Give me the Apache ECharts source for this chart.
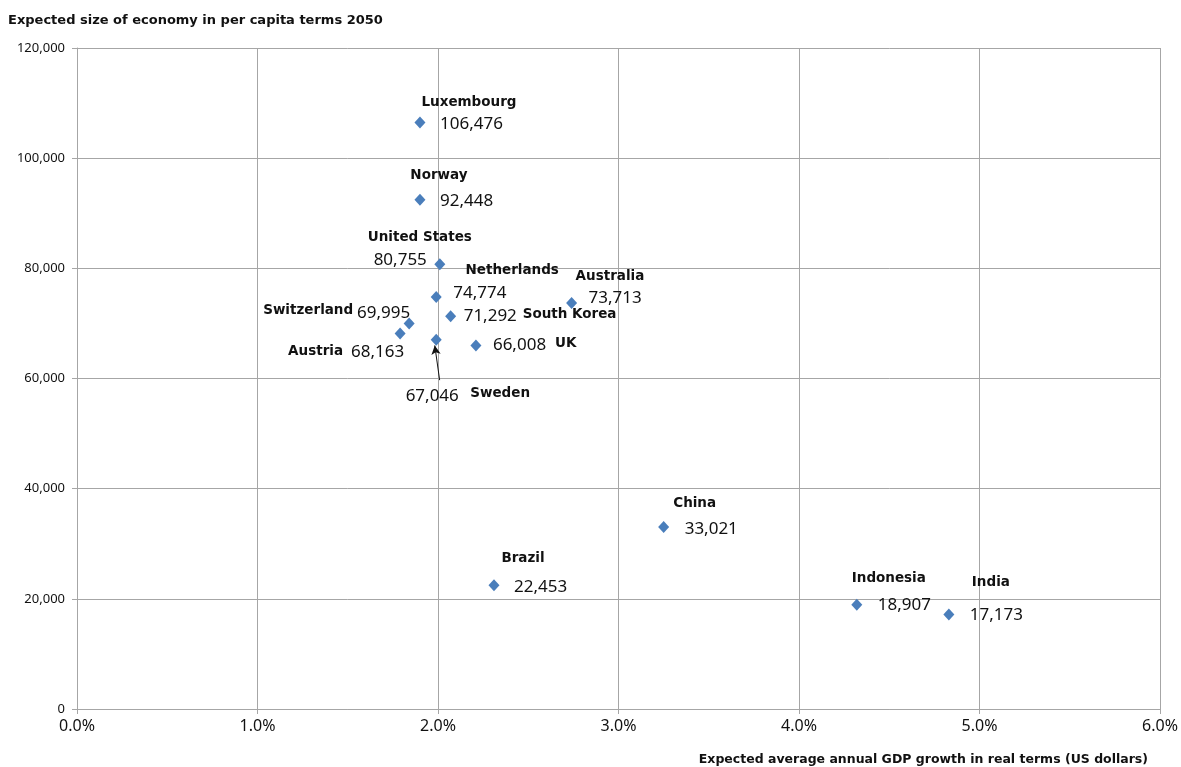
<!DOCTYPE html>
<html>
<head>
<meta charset="utf-8">
<script src="https://cdn.jsdelivr.net/npm/echarts@6/dist/echarts.min.js"></script>
<style>
  html, body { margin: 0; padding: 0; background: #fff; }
  #chart { width: 1181px; height: 767px; }
</style>
</head>
<body>
<div id="chart"></div>
<script>
// Countries, expected annual GDP growth (%) and GDP per capita in 2050 (US$)
const countries = ['Luxembourg', 'Norway', 'United States', 'Netherlands', 'South Korea',
  'Switzerland', 'Austria', 'Sweden', 'UK', 'Australia', 'China', 'Brazil', 'Indonesia', 'India'];
const growth = [1.90, 1.90, 2.01, 1.99, 2.07, 1.84, 1.79, 1.99, 2.21, 2.74, 3.25, 2.31, 4.32, 4.83];
const perCapita2050 = [106476, 92448, 80755, 74774, 71292, 69995, 68163, 67046, 66008, 73713, 33021, 22453, 18907, 17173];
const xTicks = [0, 1, 2, 3, 4, 5, 6];
const yTicks = [0, 20000, 40000, 60000, 80000, 100000, 120000];

const FONT = '"Noto Sans", "Open Sans", sans-serif';
const BOLD_FONT = '"DejaVu Sans", "Noto Sans", sans-serif';

// Label placement (pixel offsets from the marker centre)
const valueLabelPos = {
  'Luxembourg':    { align: 'left',   dx: 20,  dy: 2 },
  'Norway':        { align: 'left',   dx: 20,  dy: 1 },
  'United States': { align: 'right',  dx: -13, dy: -4 },
  'Netherlands':   { align: 'left',   dx: 17,  dy: -4 },
  'South Korea':   { align: 'left',   dx: 13,  dy: 0 },
  'Switzerland':   { align: 'right',  dx: 1,   dy: -10 },
  'Austria':       { align: 'left',   dx: -49, dy: 19 },
  'Sweden':        { align: 'center', dx: -4,  dy: 56 },
  'UK':            { align: 'left',   dx: 17,  dy: 0 },
  'Australia':     { align: 'left',   dx: 17,  dy: -5 },
  'China':         { align: 'left',   dx: 21,  dy: 2 },
  'Brazil':        { align: 'left',   dx: 20,  dy: 2 },
  'Indonesia':     { align: 'left',   dx: 21,  dy: 0 },
  'India':         { align: 'left',   dx: 21,  dy: 1 }
};
const nameLabelPos = {
  'Luxembourg':    { align: 'center', dx: 49,   dy: -20 },
  'Norway':        { align: 'center', dx: 19,   dy: -24 },
  'United States': { align: 'center', dx: -20,  dy: -27 },
  'Netherlands':   { align: 'center', dx: 76,   dy: -27 },
  'South Korea':   { align: 'left',   dx: 72,   dy: -2 },
  'Switzerland':   { align: 'right',  dx: -56,  dy: -13 },
  'Austria':       { align: 'left',   dx: -112, dy: 18 },
  'Sweden':        { align: 'left',   dx: 34,   dy: 54 },
  'UK':            { align: 'left',   dx: 79,   dy: -2 },
  'Australia':     { align: 'left',   dx: 4,    dy: -26 },
  'China':         { align: 'center', dx: 31,   dy: -24 },
  'Brazil':        { align: 'center', dx: 29,   dy: -27 },
  'Indonesia':     { align: 'center', dx: 32,   dy: -26 },
  'India':         { align: 'center', dx: 42,   dy: -32 }
};

const fmtNum = v => v.toString().replace(/\B(?=(\d{3})+(?!\d))/g, ',');

const valueData = countries.map((c, i) => {
  const p = valueLabelPos[c];
  return {
    name: c,
    value: [growth[i], perCapita2050[i]],
    label: { align: p.align, offset: [p.dx, p.dy] }
  };
});
const nameData = countries.map((c, i) => {
  const p = nameLabelPos[c];
  return {
    name: c,
    value: [growth[i], perCapita2050[i]],
    label: { align: p.align, offset: [p.dx, p.dy] }
  };
});

const gridColor = '#a6a6a6';

const chart = echarts.init(document.getElementById('chart'), null, { renderer: 'canvas' });
chart.setOption({
  animation: false,
  backgroundColor: '#ffffff',
  textStyle: { fontFamily: FONT },
  grid: { left: 77, right: 20, top: 48, bottom: 58, containLabel: false },
  xAxis: {
    type: 'value',
    min: xTicks[0], max: xTicks[xTicks.length - 1], interval: 1,
    axisLine: { show: true, onZero: false, lineStyle: { color: gridColor, width: 1 } },
    axisTick: { show: true, length: 5, lineStyle: { color: gridColor } },
    splitLine: { show: true, lineStyle: { color: gridColor, width: 1 } },
    axisLabel: { color: '#111', fontSize: 16, fontFamily: FONT, margin: 9,
      formatter: v => v.toFixed(1) + '%' }
  },
  yAxis: {
    type: 'value',
    min: yTicks[0], max: yTicks[yTicks.length - 1], interval: 20000,
    axisLine: { show: true, lineStyle: { color: gridColor, width: 1 } },
    axisTick: { show: true, length: 5, lineStyle: { color: gridColor } },
    splitLine: { show: true, lineStyle: { color: gridColor, width: 1 } },
    axisLabel: { color: '#111', fontSize: 13, fontFamily: FONT, margin: 12,
      formatter: v => fmtNum(v) }
  },
  graphic: [
    { type: 'text', left: 8, top: 14,
      style: { text: 'Expected size of economy in per capita terms 2050',
        font: 'bold 13px ' + BOLD_FONT, fill: '#111' } },
    { type: 'text', right: 33, top: 753,
      style: { text: 'Expected average annual GDP growth in real terms (US dollars)',
        font: 'bold 12.5px ' + BOLD_FONT, fill: '#111' } }
  ],
  series: [
    {
      type: 'scatter',
      name: 'names',
      data: nameData,
      symbol: 'circle',
      symbolSize: 1,
      itemStyle: { color: 'rgba(0,0,0,0)', opacity: 1 },
      silent: true,
      z: 3,
      label: {
        show: true, position: 'inside', verticalAlign: 'middle',
        formatter: p => p.name,
        color: '#111', fontWeight: 'bold', fontSize: 13.5, fontFamily: BOLD_FONT
      }
    },
    {
      type: 'scatter',
      name: 'economies',
      data: valueData,
      symbol: 'diamond',
      symbolSize: [11, 12],
      itemStyle: { color: '#4a7ebb', opacity: 1 },
      z: 4,
      label: {
        show: true, position: 'inside', verticalAlign: 'middle',
        formatter: p => fmtNum(p.value[1]),
        color: '#111', fontSize: 17, fontFamily: FONT
      },
      markLine: {
        silent: true,
        symbol: ['none', 'arrow'],
        symbolSize: [7, 9],
        label: { show: false },
        lineStyle: { color: '#111', width: 1, type: 'solid', opacity: 1 },
        data: [[ { coord: [2.009, 59700] }, { coord: [1.982, 66000] } ]]
      }
    }
  ]
});
</script>
</body>
</html>
